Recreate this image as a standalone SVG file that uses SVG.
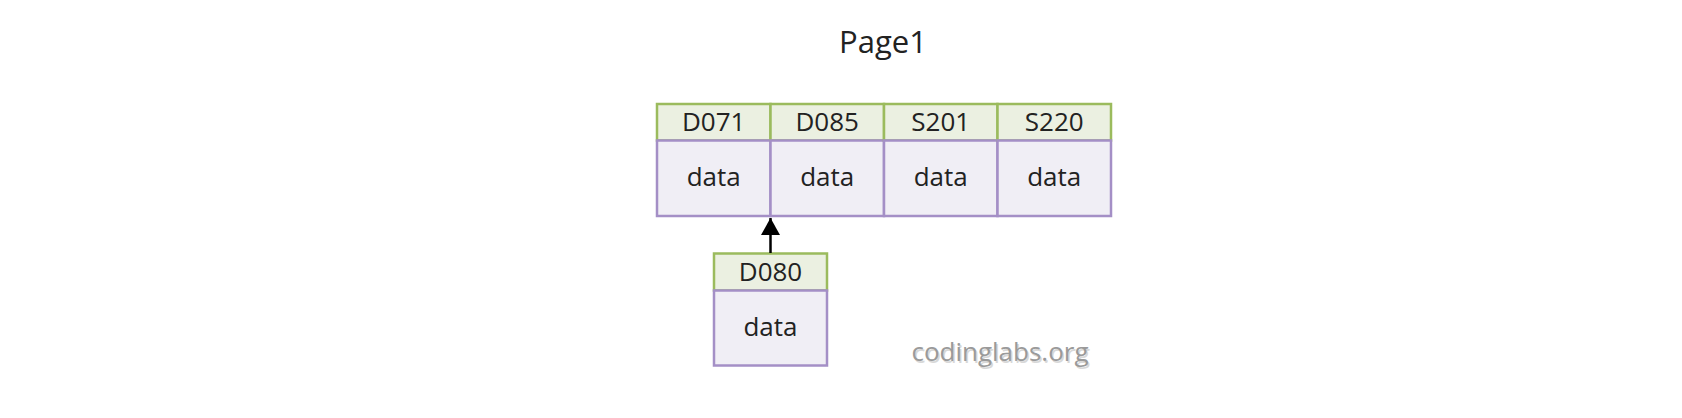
<svg xmlns="http://www.w3.org/2000/svg" width="1682" height="418" viewBox="0 0 1682 418">
<style>
.hd{fill:#ebf0e1;stroke:#9bbb5d;stroke-width:2.5}
.bd{fill:#f0eef5;stroke:#a48fc6;stroke-width:2.5}
.t{font-family:"Open Sans","Noto Sans",sans-serif;fill:#222;text-anchor:middle}
.k{font-size:26px}
.d{font-size:26px}
</style>
<defs>
<marker id="ah" markerWidth="17" markerHeight="19" refX="17" refY="9.5" orient="auto" markerUnits="userSpaceOnUse" viewBox="0 0 17 19">
<path d="M0,0 L17,9.5 L0,19 Z" fill="#000"/>
</marker>
</defs>
<rect width="1682" height="418" fill="#fff"/>
<text class="t" x="883" y="53" style="font-size:31px">Page1</text>
<g id="n-D071">
<rect class="hd" x="657" y="104" width="113.5" height="36.5"/>
<rect class="bd" x="657" y="140.5" width="113.5" height="75.5"/>
<text class="t k" x="713.7" y="131">D071</text>
<text class="t d" x="713.7" y="186">data</text>
</g>
<g id="n-D085">
<rect class="hd" x="770.5" y="104" width="113.5" height="36.5"/>
<rect class="bd" x="770.5" y="140.5" width="113.5" height="75.5"/>
<text class="t k" x="827.2" y="131">D085</text>
<text class="t d" x="827.2" y="186">data</text>
</g>
<g id="n-S201">
<rect class="hd" x="884" y="104" width="113.5" height="36.5"/>
<rect class="bd" x="884" y="140.5" width="113.5" height="75.5"/>
<text class="t k" x="940.7" y="131">S201</text>
<text class="t d" x="940.7" y="186">data</text>
</g>
<g id="n-S220">
<rect class="hd" x="997.5" y="104" width="113.5" height="36.5"/>
<rect class="bd" x="997.5" y="140.5" width="113.5" height="75.5"/>
<text class="t k" x="1054.2" y="131">S220</text>
<text class="t d" x="1054.2" y="186">data</text>
</g>
<g id="n-D080">
<rect class="hd" x="714" y="253.5" width="113" height="37"/>
<rect class="bd" x="714" y="290.5" width="113" height="75"/>
<text class="t k" x="770.5" y="281">D080</text>
<text class="t d" x="770.5" y="336">data</text>
</g>
<g id="connectors">
<line x1="770.5" y1="253" x2="770.5" y2="218" stroke="#000" stroke-width="2.5" marker-end="url(#ah)"/>
</g>
<text x="1000" y="361" style="font-family:'Open Sans','Noto Sans',sans-serif;font-size:26px;text-anchor:middle" fill="#d8d8d8" transform="translate(1.5,1.5)">codinglabs.org</text>
<text x="1000" y="361" style="font-family:'Open Sans','Noto Sans',sans-serif;font-size:26px;text-anchor:middle" fill="#9a9a9a">codinglabs.org</text>
</svg>
